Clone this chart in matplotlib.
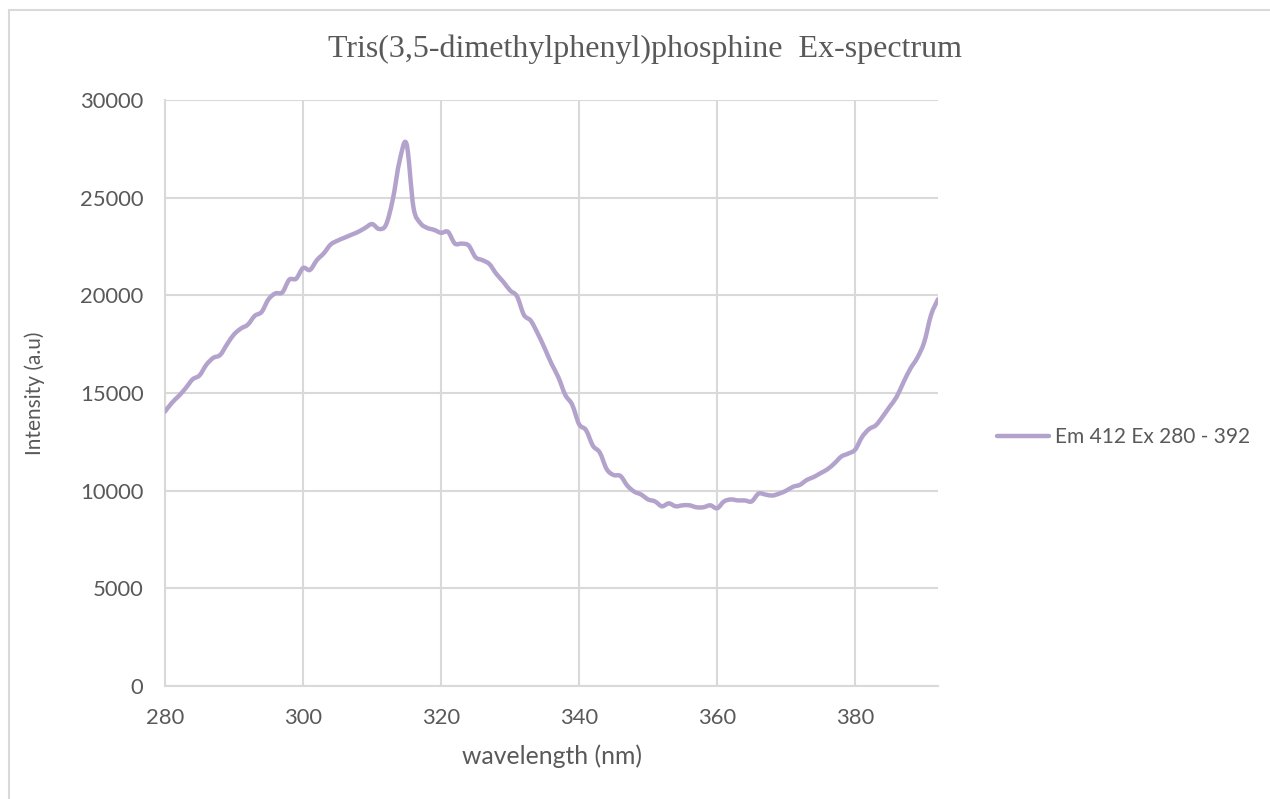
import matplotlib
matplotlib.use("Agg")
import matplotlib.pyplot as plt
from matplotlib.patches import Rectangle, PathPatch
from matplotlib.path import Path
from matplotlib.lines import Line2D

# Excitation spectrum, emission monitored at 412 nm
wavelength = list(range(280, 393))
intensity = [
    14050, 14500, 14850, 15250, 15700, 15900, 16450, 16800, 16950, 17500,  # 280-289
    18000, 18300, 18500, 18950, 19150, 19800, 20100, 20150, 20800, 20850,  # 290-299
    21400, 21300, 21800, 22150, 22600, 22800, 22950, 23100, 23250, 23450,  # 300-309
    23650, 23400, 23600, 24900, 26900, 27750, 24500, 23700, 23450, 23350,  # 310-319
    23200, 23250, 22650, 22650, 22550, 21950, 21800, 21600, 21100, 20700,  # 320-329
    20250, 19950, 19000, 18700, 18050, 17300, 16500, 15800, 14900, 14400,  # 330-339
    13400, 13100, 12300, 11950, 11100, 10800, 10750, 10250, 9950, 9800,    # 340-349
    9550, 9450, 9200, 9350, 9200, 9250, 9250, 9150, 9150, 9250,            # 350-359
    9100, 9450, 9550, 9500, 9500, 9450, 9850, 9800, 9750, 9850,            # 360-369
    10000, 10200, 10300, 10550, 10700, 10900, 11100, 11400, 11750, 11900,  # 370-379
    12100, 12750, 13150, 13350, 13800, 14300, 14800, 15550, 16250, 16800,  # 380-389
    17600, 19000, 19800,                                                   # 390-392
]
x_ticks = [280, 300, 320, 340, 360, 380]
y_ticks = [0, 5000, 10000, 15000, 20000, 25000, 30000]

title = "Tris(3,5-dimethylphenyl)phosphine  Ex-spectrum"
series_name = "Em 412 Ex 280 - 392"

line_color = "#b3a3cc"
grid_color = "#d9d9d9"
text_color = "#595959"
line_width = 3.2


def smooth_path(xs, ys):
    """Cubic Bezier path through every point (spreadsheet-style smoothed line)."""
    pts = list(zip(xs, ys))
    n = len(pts)
    verts = [pts[0]]
    codes = [Path.MOVETO]
    for i in range(n - 1):
        p0 = pts[i - 1] if i > 0 else pts[i]
        p1 = pts[i]
        p2 = pts[i + 1]
        p3 = pts[i + 2] if i + 2 < n else pts[i + 1]
        c1 = (p1[0] + (p2[0] - p0[0]) / 6, p1[1] + (p2[1] - p0[1]) / 6)
        c2 = (p2[0] - (p3[0] - p1[0]) / 6, p2[1] - (p3[1] - p1[1]) / 6)
        verts += [c1, c2, p2]
        codes += [Path.CURVE4] * 3
    return Path(verts, codes)


fig = plt.figure(figsize=(12.7, 7.99), dpi=100)
ax = fig.add_axes([165 / 1270, 1 - 686 / 799, (938 - 165) / 1270, (686 - 100) / 799])

curve = PathPatch(smooth_path(wavelength, intensity), facecolor="none",
                  edgecolor=line_color, linewidth=line_width,
                  joinstyle="round", capstyle="round", zorder=3)
ax.add_patch(curve)

ax.set_xlim(280, 392)
ax.set_ylim(0, 30000)
ax.set_xticks(x_ticks)
ax.set_yticks(y_ticks)
ax.grid(True, color=grid_color, linewidth=1.5, zorder=0)
ax.set_axisbelow(True)

for side in ("top", "right"):
    ax.spines[side].set_visible(False)
for side in ("left", "bottom"):
    ax.spines[side].set_color(grid_color)
    ax.spines[side].set_linewidth(1.5)

ax.tick_params(axis="both", length=0, labelsize=15.8, labelcolor=text_color,
               labelfontfamily="Lato")
ax.tick_params(axis="x", pad=16)
ax.tick_params(axis="y", pad=15.5)

ax.set_xlabel("wavelength (nm)", fontsize=17.8, color=text_color,
              family="Lato", labelpad=12)
ax.set_ylabel("Intensity (a.u)", fontsize=15, color=text_color,
              family="Lato", labelpad=25)

fig.text(645 / 1270, 1 - 49 / 799, title, ha="center", va="center",
         fontsize=23, color=text_color, family="Liberation Serif")

handle = Line2D([], [], color=line_color, linewidth=line_width,
                solid_capstyle="round")
leg = fig.legend([handle], [series_name], loc="center left",
                 bbox_to_anchor=(997 / 1270, 1 - 437 / 799),
                 frameon=False, fontsize=15, handlelength=2.5,
                 handletextpad=0.3, borderaxespad=0, borderpad=0)
for t in leg.get_texts():
    t.set_color(text_color)
    t.set_family("Lato")

# chart frame
fig.patches.append(Rectangle((8.5 / 1270, -0.1), 1.2, 1 - 9.5 / 799 + 0.1,
                             transform=fig.transFigure, fill=False,
                             edgecolor=grid_color, linewidth=1.5))

fig.savefig("out.png", dpi=100)
